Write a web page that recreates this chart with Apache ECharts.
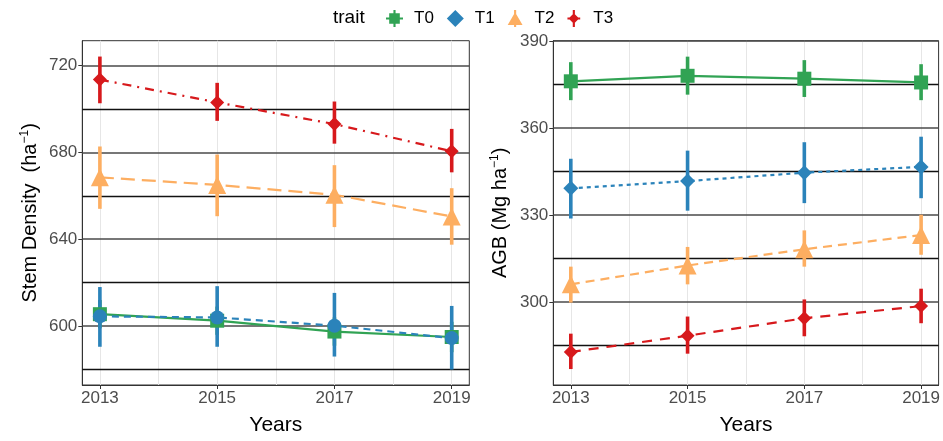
<!DOCTYPE html>
<html>
<head>
<meta charset="utf-8">
<script src="https://cdn.jsdelivr.net/npm/echarts@6/dist/echarts.min.js"></script>
<style>
  html, body { margin: 0; padding: 0; background: #fff; }
  #chart { width: 943px; height: 441px; }
</style>
</head>
<body>
<div id="chart"></div>
<script>
  // years on the x axis
  const years = [2013, 2015, 2017, 2019]
  const traits = ['T0', 'T1', 'T2', 'T3']

  // Stem density (ha-1): mean, lower and upper bar
  const sdT0 = [605.5, 602.5, 597.5, 595.0]
  const sdT0Lo = [599, 596, 591, 588]
  const sdT0Hi = [612, 609, 604, 602]
  const sdT1 = [604.5, 604.0, 600.2, 594.5]
  const sdT1Lo = [590.5, 590.5, 586.0, 580.0]
  const sdT1Hi = [618.0, 618.4, 615.3, 609.3]
  const sdT2 = [668.5, 665.0, 660.5, 650.5]
  const sdT2Lo = [654.0, 650.6, 645.6, 637.5]
  const sdT2Hi = [682.7, 679.0, 674.1, 663.5]
  const sdT3 = [713.5, 703.0, 693.0, 680.5]
  const sdT3Lo = [702.6, 694.5, 684.0, 670.8]
  const sdT3Hi = [724.1, 712.0, 703.4, 690.8]

  // AGB (Mg ha-1)
  const agbT0 = [376.1, 378.0, 377.0, 375.7]
  const agbT0Lo = [369.6, 371.5, 370.7, 369.6]
  const agbT0Hi = [382.7, 384.6, 383.4, 382.0]
  const agbT1 = [339.2, 341.7, 344.6, 346.6]
  const agbT1Lo = [328.8, 331.5, 334.1, 335.8]
  const agbT1Hi = [349.4, 352.2, 355.1, 357.0]
  const agbT2 = [306.1, 312.6, 318.2, 323.1]
  const agbT2Lo = [299.8, 306.1, 312.2, 316.3]
  const agbT2Hi = [312.2, 319.0, 324.7, 330.1]
  const agbT3 = [282.8, 288.4, 294.4, 298.6]
  const agbT3Lo = [276.9, 282.2, 288.2, 292.7]
  const agbT3Hi = [289.1, 295.0, 300.9, 304.6]

  // tick labels and grid lines
  const xTicks = [2013, 2015, 2017, 2019]
  const xGrid = [2013, 2014, 2015, 2016, 2017, 2018, 2019]
  const sdTicks = [600, 640, 680, 720]
  const sdMinor = [580, 620, 660, 700]
  const agbTicks = [300, 330, 360, 390]
  const agbMinor = [285, 315, 345, 375]

  const colors = { T0: '#31a354', T1: '#2b83ba', T2: '#fdae61', T3: '#d7191c' }
  const font = 'Liberation Sans, Arial, sans-serif'

  const pair = (ys) => years.map((y, i) => [y, ys[i]])
  const triple = (lo, hi) => years.map((y, i) => [y, lo[i], hi[i]])

  function lineSeries(name, gi, ys, type, width) {
    return {
      name: name, type: 'line', xAxisIndex: gi, yAxisIndex: gi,
      data: pair(ys), showSymbol: false, symbol: 'none', z: 2, silent: true,
      lineStyle: { color: colors[name], width: width || 2.2, type: type },
      itemStyle: { color: colors[name] }
    }
  }

  // vertical error bar drawn as a thin filled rect
  function barSeries(name, gi, lo, hi) {
    return {
      name: name, type: 'custom', xAxisIndex: gi, yAxisIndex: gi, z: 3, silent: true,
      itemStyle: { color: colors[name] },
      data: triple(lo, hi),
      renderItem: function (params, api) {
        const p1 = api.coord([api.value(0), api.value(1)])
        const p2 = api.coord([api.value(0), api.value(2)])
        const w = 3.6
        return {
          type: 'rect',
          shape: { x: p1[0] - w / 2, y: p2[1], width: w, height: p1[1] - p2[1] },
          style: { fill: colors[name], stroke: null }
        }
      }
    }
  }

  function pointSeries(name, gi, ys, symbol, size) {
    return {
      name: name, type: 'scatter', xAxisIndex: gi, yAxisIndex: gi, z: 4, silent: true,
      data: pair(ys), symbol: symbol, symbolSize: size,
      itemStyle: { color: colors[name], opacity: 1 }
    }
  }

  function gridLines(gi, major, minor) {
    const data = []
    for (const x of xGrid) data.push({ xAxis: x, lineStyle: { color: '#e6e6e6', width: 1, type: 'solid' } })
    for (const v of minor) data.push({ yAxis: v, lineStyle: { color: '#111', width: 1.3, type: 'solid' } })
    for (const v of major) data.push({ yAxis: v, lineStyle: { color: '#4a4a4a', width: 1.6, type: 'solid' } })
    return {
      type: 'line', xAxisIndex: gi, yAxisIndex: gi, data: [], z: 1, silent: true,
      markLine: { z: 1, silent: true, symbol: ['none', 'none'], label: { show: false }, animation: false, data: data }
    }
  }

  function xAxis(gi) {
    return {
      type: 'value', gridIndex: gi, min: 2012.7, max: 2019.3,
      name: 'Years', nameLocation: 'middle', nameGap: 30,
      nameTextStyle: { fontSize: 21, color: '#000', fontFamily: font },
      axisLine: { show: true, lineStyle: { color: '#333', width: 1 } },
      axisTick: { show: true, length: 4, customValues: xTicks, lineStyle: { color: '#333' } },
      axisLabel: {
        customValues: xTicks, fontSize: 17, color: '#4d4d4d', margin: 5, fontFamily: font,
        formatter: v => String(v)
      },
      splitLine: { show: false }
    }
  }

  function yAxis(gi, min, max, ticks, nameStr, gap) {
    return {
      type: 'value', gridIndex: gi, min: min, max: max,
      name: nameStr, nameLocation: 'middle', nameGap: gap,
      nameTextStyle: {
        fontSize: 20, color: '#000', fontFamily: font,
        rich: {
          n: { fontSize: 20, color: '#000', fontFamily: font, lineHeight: 24 },
          s: { fontSize: 12, color: '#000', fontFamily: font, verticalAlign: 'top', lineHeight: 24 }
        }
      },
      axisLine: { show: true, lineStyle: { color: '#333', width: 1 } },
      axisTick: { show: true, length: 4, customValues: ticks, lineStyle: { color: '#333' } },
      axisLabel: { customValues: ticks, fontSize: 17, color: '#4d4d4d', margin: 5, fontFamily: font },
      splitLine: { show: false }
    }
  }

  const series = [
    gridLines(0, sdTicks, sdMinor),
    gridLines(1, agbTicks, agbMinor),

    lineSeries('T0', 0, sdT0, 'solid'),
    lineSeries('T1', 0, sdT1, [7, 5]),
    lineSeries('T2', 0, sdT2, [14, 7]),
    lineSeries('T3', 0, sdT3, [9, 6, 2, 6]),
    barSeries('T0', 0, sdT0Lo, sdT0Hi),
    barSeries('T1', 0, sdT1Lo, sdT1Hi),
    barSeries('T2', 0, sdT2Lo, sdT2Hi),
    barSeries('T3', 0, sdT3Lo, sdT3Hi),
    pointSeries('T0', 0, sdT0, 'rect', 14),
    pointSeries('T1', 0, sdT1, 'circle', 14),
    pointSeries('T2', 0, sdT2, 'triangle', 18),
    pointSeries('T3', 0, sdT3, 'diamond', 14),

    lineSeries('T0', 1, agbT0, 'solid'),
    lineSeries('T1', 1, agbT1, [4, 4]),
    lineSeries('T2', 1, agbT2, [9, 6]),
    lineSeries('T3', 1, agbT3, [10, 8]),
    barSeries('T0', 1, agbT0Lo, agbT0Hi),
    barSeries('T1', 1, agbT1Lo, agbT1Hi),
    barSeries('T2', 1, agbT2Lo, agbT2Hi),
    barSeries('T3', 1, agbT3Lo, agbT3Hi),
    pointSeries('T0', 1, agbT0, 'rect', 14),
    pointSeries('T1', 1, agbT1, 'diamond', 15),
    pointSeries('T2', 1, agbT2, 'triangle', 18),
    pointSeries('T3', 1, agbT3, 'diamond', 14)
  ]

  const icons = {
    T0: 'path://M3,3H13V13H3Z M7,0H9V16H7Z M0,7H16V9H0Z',
    T1: 'path://M8,1L15,8L8,15L1,8Z',
    T2: 'path://M8,2L15,14H1Z M7,0H9V16H7Z',
    T3: 'path://M8,3L13,8L8,13L3,8Z M7,0H9V16H7Z M2,7H14V9H2Z'
  }

  const chart = echarts.init(document.getElementById('chart'), null, { renderer: 'canvas' })
  chart.setOption({
    animation: false,
    textStyle: { fontFamily: font },
    graphic: [{
      type: 'text', left: 333, top: 8,
      style: { text: 'trait', fontSize: 19, fill: '#000', fontFamily: font }
    }],
    legend: {
      left: 381, top: 5, itemWidth: 17, itemHeight: 17, itemGap: 13,
      selectedMode: false,
      textStyle: { fontSize: 17, color: '#000', fontFamily: font, padding: [0, 0, 0, 6] },
      data: traits.map(t => ({ name: t, icon: icons[t], itemStyle: { color: colors[t] } }))
    },
    grid: [
      { left: 82.3, top: 40.7, width: 387, height: 348.6, show: true, borderColor: '#333', borderWidth: 1, backgroundColor: 'transparent' },
      { left: 553.3, top: 40.7, width: 388.4, height: 348.6, show: true, borderColor: '#333', borderWidth: 1, backgroundColor: 'transparent' }
    ],
    xAxis: [xAxis(0), xAxis(1)],
    yAxis: [
      yAxis(0, 572.9, 731.4, sdTicks, '{n|Stem Density  (ha}{s|\u22121}{n|)}', 40),
      yAxis(1, 271.4, 390.1, agbTicks, '{n|AGB (Mg ha}{s|\u22121}{n|)}', 41)
    ],
    series: series
  })
</script>
</body>
</html>
